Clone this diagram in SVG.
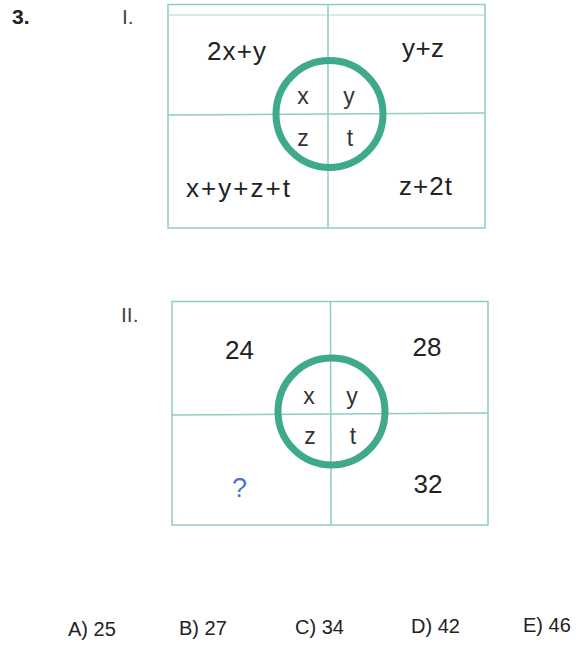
<svg xmlns="http://www.w3.org/2000/svg" width="581" height="646" viewBox="0 0 581 646">
<style>
.box{fill:none;stroke:#8fcdbf;stroke-width:1.5}
.grid{stroke:#8fcdbf;stroke-width:1.5}
.ring{fill:none;stroke:#3ea98b;stroke-width:7}
.t{font-family:"Liberation Sans",Arial,sans-serif;fill:#222;font-size:26px}
.c{font-family:"Liberation Sans",Arial,sans-serif;fill:#333;font-size:23px;text-anchor:middle}
.n{font-family:"Liberation Sans",Arial,sans-serif;fill:#222;font-size:26px;text-anchor:middle}
.q{font-family:"Liberation Sans",Arial,sans-serif;fill:#4d72cf;font-size:27px;text-anchor:middle}
.a{font-family:"Liberation Sans",Arial,sans-serif;fill:#222;font-size:20px}
.lbl{font-family:"Liberation Sans",Arial,sans-serif;fill:#444;font-size:21px}
</style>
<rect width="581" height="646" fill="#fff"/>
<text x="12" y="24" font-family="Liberation Sans,Arial,sans-serif" font-weight="bold" font-size="21" fill="#222">3.</text>
<text class="lbl" x="122" y="24">I.</text>
<text class="lbl" x="121" y="322">II.</text>

<g id="figure1">
<rect class="box" x="168" y="4.5" width="317" height="223.5"/>
<line x1="169" y1="15" x2="484" y2="15" stroke="#d3ede6" stroke-width="2"/>
<line class="grid" x1="328" y1="4.5" x2="328" y2="228"/>
<line class="grid" x1="168" y1="115" x2="485" y2="113"/>
<circle class="ring" cx="329.5" cy="114" r="53.5"/>
<text class="t" x="207" y="60" textLength="59" lengthAdjust="spacing">2x+y</text>
<text class="t" x="402" y="57" textLength="42" lengthAdjust="spacing">y+z</text>
<text class="t" x="186" y="196.5" textLength="104" lengthAdjust="spacing">x+y+z+t</text>
<text class="t" x="399" y="195" textLength="53" lengthAdjust="spacing">z+2t</text>
<text class="c" x="303" y="104">x</text>
<text class="c" x="349" y="104">y</text>
<text class="c" x="303" y="146">z</text>
<text class="c" x="350" y="146">t</text>
</g>

<g id="figure2">
<rect class="box" x="172" y="301.5" width="316" height="223.5"/>
<line class="grid" x1="330.5" y1="301" x2="331" y2="525"/>
<line class="grid" x1="172" y1="415" x2="488" y2="413"/>
<circle class="ring" cx="331.5" cy="411.5" r="53.5"/>
<text class="n" x="239.5" y="359">24</text>
<text class="n" x="427" y="356">28</text>
<text class="n" x="428" y="493">32</text>
<text class="q" x="239.5" y="497">?</text>
<text class="c" x="309" y="404">x</text>
<text class="c" x="352" y="404">y</text>
<text class="c" x="310" y="444">z</text>
<text class="c" x="353" y="444">t</text>
</g>

<g id="answers">
<text class="a" x="68" y="636">A) 25</text>
<text class="a" x="179" y="635">B) 27</text>
<text class="a" x="295" y="634">C) 34</text>
<text class="a" x="411" y="633">D) 42</text>
<text class="a" x="523" y="632">E) 46</text>
</g>
</svg>
